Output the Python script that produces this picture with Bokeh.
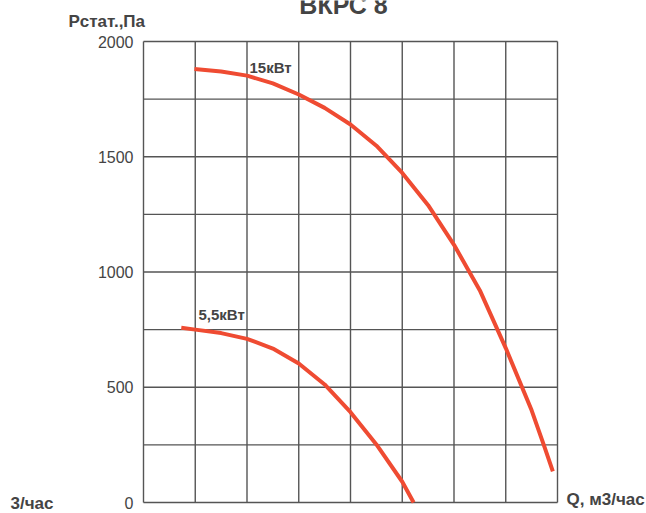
from bokeh.plotting import figure
from bokeh.models import Range1d, ColumnDataSource
from bokeh.core.properties import value
from bokeh.embed import file_html
from bokeh.resources import INLINE

# --- data (x in grid-column units of Q, y in Pa) ---
q_15 = [0.985, 1.5, 2.0, 2.5, 3.0, 3.5, 4.0, 4.5, 5.0, 5.5, 6.0, 6.5, 7.0, 7.5, 7.75, 7.91]
p_15 = [1881, 1870, 1852, 1818, 1770, 1712, 1640, 1548, 1430, 1290, 1118, 920, 670, 400, 240, 135]

q_55 = [0.73, 1.0, 1.5, 2.0, 2.5, 3.0, 3.5, 4.0, 4.5, 5.0, 5.22]
p_55 = [758, 750, 735, 710, 668, 603, 512, 392, 252, 90, 0]

y_ticks = [0, 500, 1000, 1500, 2000]
y_grid = [0, 250, 500, 750, 1000, 1250, 1500, 1750, 2000]
x_grid = [0, 1, 2, 3, 4, 5, 6, 7, 8]

title_text = "ВКРС 8"
y_label = "Рстат.,Па"
x_label = "Q, м3/час"
stray_label = "3/час"
curve_labels = ["15кВт", "5,5кВт"]

FONT = "Liberation Sans"
TXT = "#444444"
GRID = "#555555"
RED = "#ef4b32"

W, H = 646, 513
# plot-area placement on the canvas (pixels)
L, R, T, B = 143, 557, 41, 502
xmin, xmax = x_grid[0], x_grid[-1]
ymin, ymax = y_grid[0], y_grid[-1]
sx = (R - L) / (xmax - xmin)
sy = (B - T) / (ymax - ymin)

def X(px):
    return xmin + (px - L) / sx

def Y(py):
    return ymin + (B - py) / sy

p = figure(width=W, height=H, output_backend="svg", toolbar_location=None,
           x_range=Range1d(X(0), X(W)), y_range=Range1d(Y(H), Y(0)),
           min_border=0, min_border_left=0, min_border_right=0,
           min_border_top=0, min_border_bottom=0)
p.axis.visible = False
p.grid.visible = False
p.outline_line_color = None
p.background_fill_color = "white"
p.border_fill_color = "white"

# grid (from the grid arrays)
p.segment(x0=x_grid, y0=[ymin] * len(x_grid), x1=x_grid, y1=[ymax] * len(x_grid),
          line_color=GRID, line_width=1.4)
p.segment(x0=[xmin] * len(y_grid), y0=y_grid, x1=[xmax] * len(y_grid), y1=y_grid,
          line_color=GRID, line_width=1.4)

# y tick labels
tick_src = ColumnDataSource(dict(x=[xmin] * len(y_ticks), y=y_ticks,
                                 t=[str(v) for v in y_ticks]))
p.text(x="x", y="y", text="t", source=tick_src, x_offset=-10,
       text_align="right", text_baseline="middle",
       text_font=value(FONT), text_font_size="16px", text_color=TXT)

# curves
p.line(q_15, p_15, line_color=RED, line_width=4, line_join="round")
p.line(q_55, p_55, line_color=RED, line_width=4, line_join="round")

def lab(px, py, t, size, align="left", baseline="middle"):
    p.text(x=[X(px)], y=[Y(py)], text=[t], text_align=align, text_baseline=baseline,
           text_font=value(FONT), text_font_size=size, text_font_style="bold",
           text_color=TXT)

lab(343, 4, title_text, "25px", align="center")
lab(68, 21, y_label, "17px")
lab(566, 499, x_label, "17px")
lab(10, 502.5, stray_label, "17px")
lab(249, 66.5, curve_labels[0], "15px")
lab(198, 313.5, curve_labels[1], "15px")

open("out.html", "w").write(file_html(p, INLINE))
